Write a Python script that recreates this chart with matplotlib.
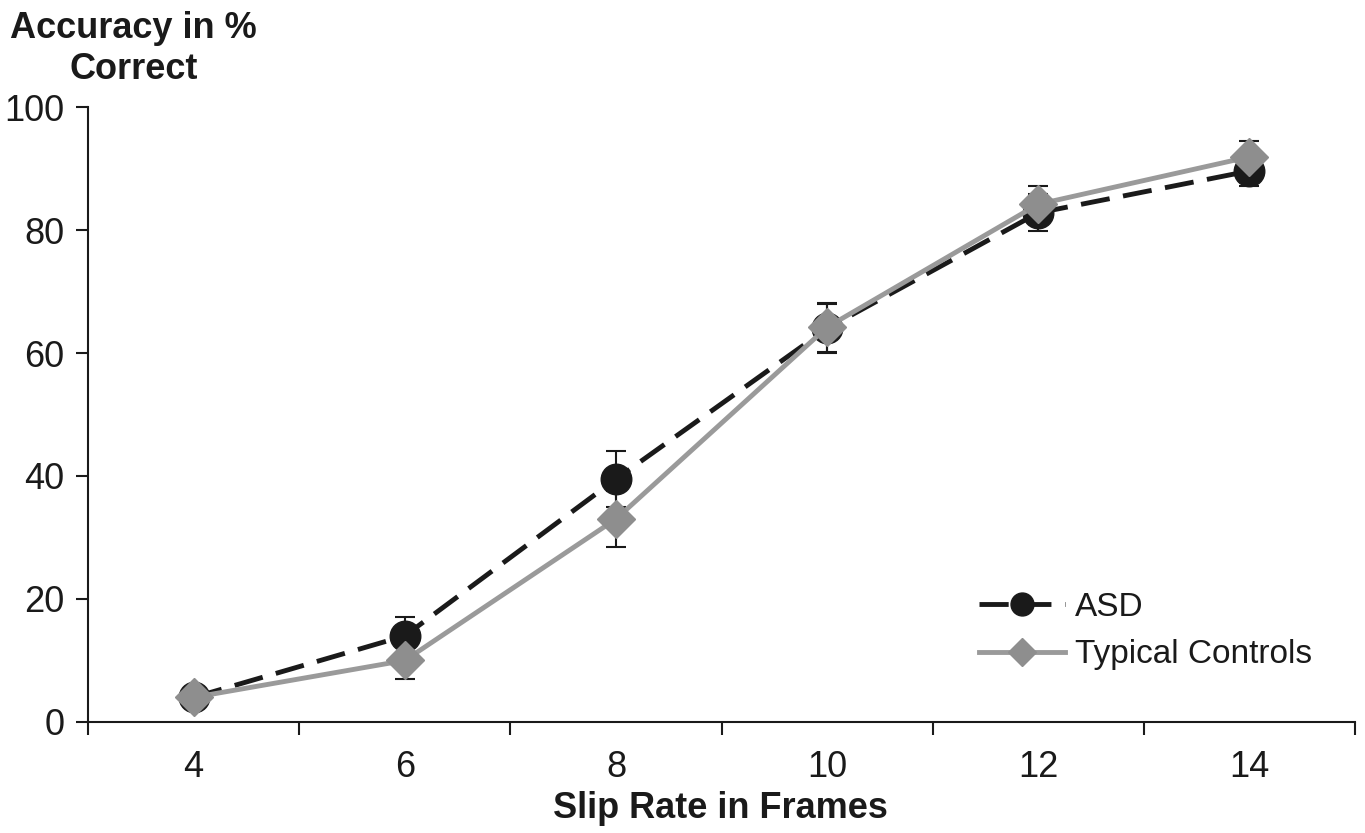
import numpy as np
import matplotlib.pyplot as plt
from matplotlib.ticker import FixedLocator

plt.rcParams['font.family'] = ['Liberation Sans', 'DejaVu Sans']

slip_rates = ['4', '6', '8', '10', '12', '14']
asd = [4.0, 14.0, 39.5, 64.0, 82.8, 89.6]
asd_err = [0.0, 3.0, 4.5, 4.0, 3.0, 2.5]
tc = [4.0, 10.0, 33.0, 64.2, 84.2, 91.9]
tc_err = [0.0, 3.0, 4.5, 4.0, 3.0, 2.5]

x = np.arange(len(slip_rates))

fig = plt.figure(figsize=(13.65, 8.33), dpi=100)
ax = fig.add_axes([0.0645, 0.1333, 0.9282, 0.7382])

# error bars (black, drawn under the markers)
ax.errorbar(x, asd, yerr=asd_err, fmt='none', ecolor='#1a1a1a', elinewidth=1.5,
            capsize=7, capthick=1.5, zorder=2)
ax.errorbar(x, tc, yerr=tc_err, fmt='none', ecolor='#1a1a1a', elinewidth=1.5,
            capsize=7, capthick=1.5, zorder=2)

ax.plot(x, asd, color='#1a1a1a', lw=3.5, dashes=(6, 2.8), marker='o', markersize=22,
        markerfacecolor='#1a1a1a', markeredgecolor='#1a1a1a', label='ASD', zorder=3)
ax.plot(x, tc, color='#9a9a9a', lw=3.5, marker='D', markersize=19,
        markerfacecolor='#8e8e8e', markeredgecolor='#8e8e8e', label='Typical Controls', zorder=4)

ax.set_xlim(-0.5, len(slip_rates) - 0.5)
ax.set_ylim(0, 100)

# category boundaries carry the tick marks, labels sit in the middle
ax.xaxis.set_major_locator(FixedLocator(np.arange(-0.5, len(slip_rates), 1.0)))
ax.xaxis.set_minor_locator(FixedLocator(x))
ax.set_xticklabels([], minor=False)
ax.set_xticklabels(slip_rates, minor=True)
ax.tick_params(axis='x', which='major', length=9, width=1.5, direction='out', color='#1a1a1a')
ax.tick_params(axis='x', which='minor', length=0, labelsize=26, pad=20, labelcolor='#1a1a1a')

ax.set_yticks([0, 20, 40, 60, 80, 100])
ax.tick_params(axis='y', length=9, width=1.5, direction='out', labelsize=26,
               pad=8, color='#1a1a1a', labelcolor='#1a1a1a')

for s in ['top', 'right']:
    ax.spines[s].set_visible(False)
for s in ['left', 'bottom']:
    ax.spines[s].set_linewidth(1.5)
    ax.spines[s].set_color('#1a1a1a')

fig.text(0.098, 0.966, 'Accuracy in %', fontsize=26, fontweight='bold',
         ha='center', va='center', color='#1a1a1a')
fig.text(0.098, 0.916, 'Correct', fontsize=26, fontweight='bold',
         ha='center', va='center', color='#1a1a1a')
fig.text(0.528, 0.03, 'Slip Rate in Frames', fontsize=26, fontweight='bold',
         ha='center', va='center', color='#1a1a1a')

leg = ax.legend(loc='lower right', bbox_to_anchor=(0.99, 0.035), frameon=False,
                fontsize=24, handlelength=2.6, handletextpad=0.3, labelspacing=0.5,
                markerscale=0.75)
for t in leg.get_texts():
    t.set_color('#1a1a1a')

fig.savefig('out.png', dpi=100)
